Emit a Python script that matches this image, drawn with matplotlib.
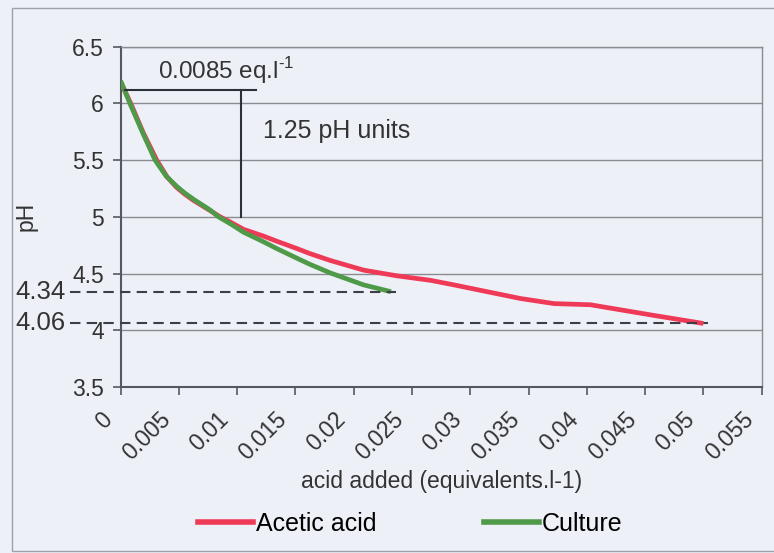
import matplotlib
matplotlib.use("Agg")
import matplotlib.pyplot as plt
from matplotlib.lines import Line2D
from matplotlib.patches import Rectangle
from matplotlib.transforms import blended_transform_factory, ScaledTranslation

plt.rcParams['font.family'] = ['Liberation Sans', 'DejaVu Sans']
plt.rcParams['mathtext.fontset'] = 'custom'
plt.rcParams['mathtext.rm'] = 'Liberation Sans'

# Titration data: pH versus acid added (equivalents per litre)
acetic_x = [0.0, 0.00087, 0.00195, 0.0031, 0.0040, 0.0048, 0.0055, 0.00625,
            0.00768, 0.00854, 0.0094, 0.01054, 0.01226, 0.0134, 0.01513, 0.01627,
            0.018, 0.02085, 0.0237, 0.0266, 0.0286, 0.03145, 0.0343, 0.0372,
            0.0403, 0.0429, 0.0458, 0.0500]
acetic_ph = [6.19, 6.00, 5.74, 5.50, 5.35, 5.26, 5.20, 5.145,
             5.055, 5.00, 4.955, 4.89, 4.83, 4.785, 4.72, 4.675,
             4.615, 4.53, 4.48, 4.44, 4.40, 4.34, 4.28, 4.235,
             4.225, 4.18, 4.13, 4.06]

culture_x = [0.0, 0.0008, 0.0019, 0.00296, 0.0039, 0.0048, 0.0055, 0.00625,
             0.00768, 0.0084, 0.0094, 0.01054, 0.01226, 0.0134, 0.01513,
             0.01627, 0.018, 0.02085, 0.0232]
culture_ph = [6.20, 6.00, 5.74, 5.50, 5.36, 5.27, 5.21, 5.155,
              5.06, 5.00, 4.94, 4.865, 4.78, 4.72, 4.635,
              4.58, 4.505, 4.40, 4.34]

x_ticks = [0, 0.005, 0.01, 0.015, 0.02, 0.025, 0.03, 0.035, 0.04, 0.045, 0.05, 0.055]
x_tick_labels = ['0', '0.005', '0.01', '0.015', '0.02', '0.025', '0.03',
                 '0.035', '0.04', '0.045', '0.05', '0.055']
y_ticks = [3.5, 4, 4.5, 5, 5.5, 6, 6.5]
y_tick_labels = ['3.5', '4', '4.5', '5', '5.5', '6', '6.5']

end_labels = ['4.34', '4.06']
end_values = [4.34, 4.06]

# Buffer capacity annotation: span of acid and pH drop
span_acid = 0.0103
span_top = 6.12
span_bottom = 5.0

BG = '#eef0f8'
RED = '#ef3a57'
GREEN = '#4f9a48'
TEXT = '#333333'

fig = plt.figure(figsize=(7.74, 5.53), dpi=100, facecolor=BG)
ax = fig.add_axes([0.1558, 0.3002, 0.8283, 0.6154], facecolor=BG)

# Outer chart frame
fig.patches.append(Rectangle((11.5 / 774, 2 / 553), 1.2, 543 / 553,
                             transform=fig.transFigure, fill=False,
                             edgecolor='#a0a0a8', linewidth=1.0))

ax.set_xlim(0, 0.055)
ax.set_ylim(3.5, 6.5)

for y in y_ticks[1:]:
    ax.axhline(y, color='#8a8a90', linewidth=1.0, zorder=1)

ax.plot(acetic_x, acetic_ph, color=RED, linewidth=3.4, zorder=3,
        solid_capstyle='butt', solid_joinstyle='round', label='Acetic acid')
ax.plot(culture_x, culture_ph, color=GREEN, linewidth=3.4, zorder=4,
        solid_capstyle='butt', solid_joinstyle='round', label='Culture')

# End-point reference lines extending past the y axis
x_start = -0.0043
for val, xend in zip(end_values, [culture_x[-1], acetic_x[-1]]):
    ax.plot([x_start, xend + 0.0004], [val, val], color='#3c3f48', linewidth=1.5,
            linestyle=(0, (5, 3)), clip_on=False, zorder=5)

trans = blended_transform_factory(fig.transFigure, ax.transData)
for lab, val in zip(end_labels, end_values):
    ax.text(15 / 774, val, lab, transform=trans, ha='left', va='center',
            fontsize=18.5, color=TEXT)

# Buffer annotation bracket
ax.plot([0.0004, 0.0116], [span_top, span_top], color='#2c3038', linewidth=1.5, zorder=5)
ax.plot([span_acid, span_acid], [span_top, span_bottom], color='#2c3038',
        linewidth=1.5, zorder=5)
ax.text(0.0032, 6.29, r'0.0085 eq.l$^{\text{-1}}$', fontsize=17.5, color=TEXT,
        ha='left', va='center')
ax.text(0.0122, 5.76, '1.25 pH units', fontsize=18, color=TEXT,
        ha='left', va='center')

# Axes styling
for side in ['top', 'right']:
    ax.spines[side].set_color('#8a8a90')
    ax.spines[side].set_linewidth(1.0)
for side in ['left', 'bottom']:
    ax.spines[side].set_color('#55585f')
    ax.spines[side].set_linewidth(1.5)

ax.set_yticks(y_ticks)
ax.set_yticklabels(y_tick_labels, fontsize=16.5, color=TEXT)
ax.set_xticks(x_ticks)
ax.set_xticklabels(x_tick_labels, fontsize=16.5, color=TEXT, rotation=45,
                   ha='right', va='center', rotation_mode='anchor')
ax.tick_params(axis='y', length=6, width=1.2, color='#55585f', pad=6)
ax.tick_params(axis='x', length=6, width=1.2, color='#55585f', pad=15)
shift = ScaledTranslation(-0.12, 0, fig.dpi_scale_trans)
for lbl in ax.get_xticklabels():
    lbl.set_transform(lbl.get_transform() + shift)

ax.set_ylabel('pH', fontsize=16.5, color=TEXT)
ax.yaxis.set_label_coords(-0.129, 0.5)
ax.set_xlabel('acid added (equivalents.l-1)', fontsize=16.5, color=TEXT)
ax.xaxis.set_label_coords(0.5, -0.245)

handles = [Line2D([], [], color=RED, linewidth=4), Line2D([], [], color=GREEN, linewidth=4)]
fig.legend(handles, ['Acetic acid', 'Culture'], loc='center', ncol=2,
           bbox_to_anchor=(0.53, 0.052), frameon=False, fontsize=18,
           handlelength=2.2, handletextpad=0.1, columnspacing=4.3)

fig.savefig('out.png', dpi=100, facecolor=BG)
